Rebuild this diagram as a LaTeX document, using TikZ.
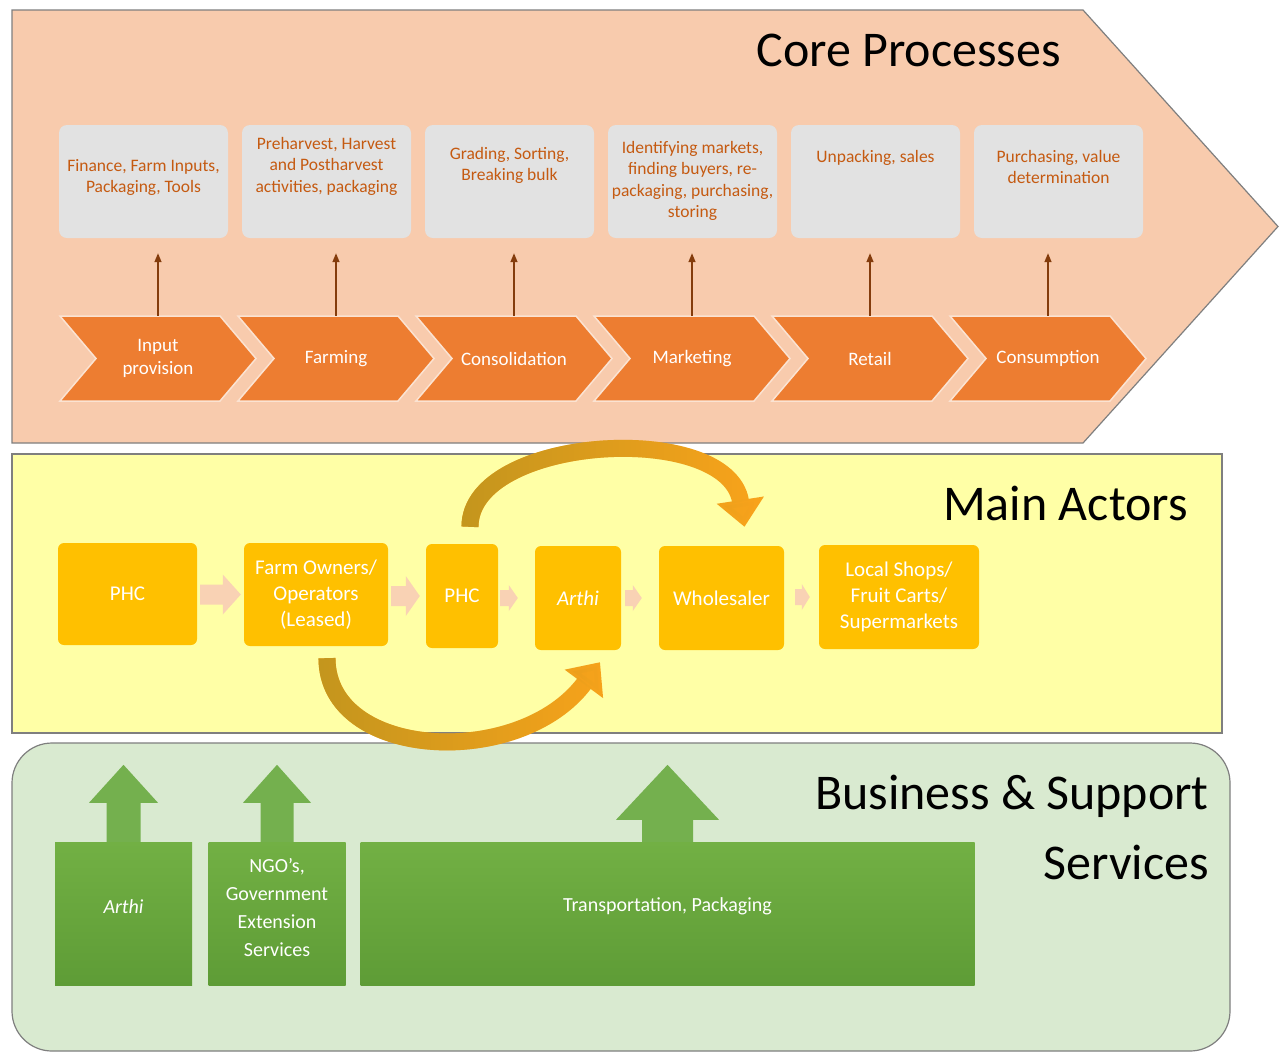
\documentclass[tikz,border=0pt]{standalone}
\usepackage{fontspec}
\setmainfont{Carlito}
\usetikzlibrary{arrows.meta,calc,fadings}

\definecolor{corefill}{HTML}{F8CBAD}
\definecolor{framec}{HTML}{7F7F7F}
\definecolor{taskgray}{HTML}{E2E2E2}
\definecolor{tasktxt}{HTML}{C55A11}
\definecolor{chevc}{HTML}{ED7D31}
\definecolor{chevedge}{HTML}{FBE3D2}
\definecolor{stemc}{HTML}{843C0C}
\definecolor{actfill}{HTML}{FFFFA6}
\definecolor{gold}{HTML}{FFC000}
\definecolor{peach}{HTML}{F9D2B4}
\definecolor{arcdark}{HTML}{C4961E}
\definecolor{arclight}{HTML}{F8A31B}
\definecolor{suppfill}{HTML}{D9EAD0}
\definecolor{grntop}{HTML}{72B044}
\definecolor{grnbot}{HTML}{5E9C36}
\definecolor{grnarrow}{HTML}{74B04E}

% chevron of the value chain: name, left x, label
\newcommand\stagechev[3]{%
  \filldraw[fill=chevc, draw=chevedge, line width=1.5pt]
    (#2,316) -- ++(160,0) -- ++(36,42.5) -- ++(-36,42.5) -- ++(-160,0) -- ++(36,-42.5) -- cycle;
  \node[stage] (#1) at (#2+98,358.5) {#3};}

% flat block arrow between two actor boxes
% #1 from, #2 to, #3 tail gap, #4 tip gap, #5 shaft half height, #6 head half height, #7 head length
\newcommand\flowarrow[7]{%
  \fill[peach] let \p1=(#1.east), \p2=(#2.west) in
    (\x1+#3,\y2+#5) -- (\x2-#4-#7,\y2+#5) -- (\x2-#4-#7,\y2+#6) -- (\x2-#4,\y2)
    -- (\x2-#4-#7,\y2-#6) -- (\x2-#4-#7,\y2-#5) -- (\x1+#3,\y2-#5) -- cycle;}

% upward block arrow standing on a support box
% #1 box, #2 shaft half width, #3 head half width, #4 head base height, #5 tip height
\newcommand\supportarrow[5]{%
  \fill[grnarrow] let \p1=(#1.north) in
    (\x1-#2,\y1) -- (\x1-#2,\y1+#4) -- (\x1-#3,\y1+#4) -- (\x1,\y1+#5)
    -- (\x1+#3,\y1+#4) -- (\x1+#2,\y1+#4) -- (\x1+#2,\y1) -- cycle;}

\begin{document}
\begin{tikzpicture}[x=1pt,y=-1pt,
  taskbox/.style={fill=taskgray, rounded corners=8pt, minimum width=169pt, minimum height=113pt, inner sep=0pt},
  tasktext/.style={text=tasktxt, font=\fontsize{17.5}{21.5}\selectfont, align=center, anchor=north, inner sep=0pt},
  stage/.style={text=white, font=\fontsize{19}{23}\selectfont, align=center, minimum width=150pt, minimum height=85pt, inner sep=0pt},
  stemarrow/.style={draw=stemc, line width=1.4pt, -{Triangle[length=9pt,width=7pt]}, shorten >=15pt},
  actor/.style={fill=gold, rounded corners=6pt, text=white, font=\fontsize{21}{26}\selectfont, align=center, inner sep=0pt},
  swoop/.style={line width=17pt, -{Triangle[length=27pt,width=46pt]}},
  suppbox/.style={top color=grntop, bottom color=grnbot, inner sep=0pt, minimum height=143pt},
  supptext/.style={text=white, font=\fontsize{20}{28}\selectfont, align=center, inner sep=0pt},
  title/.style={font=\fontsize{50}{70}\selectfont, text=black, inner sep=0pt}
]
\useasboundingbox (0,0) rectangle (1280,1053);
\fill[white] (0,0) rectangle (1280,1053);

% ---------- core processes band ----------
\filldraw[fill=corefill, draw=framec, line width=1.2pt]
  (12,10) -- (1083,10) -- (1278,226.5) -- (1083,443) -- (12,443) -- cycle;
\node[title, anchor=east] (coretitle) at (1061,50) {Core Processes};

\node[taskbox] (b1) at (143.5,181.5) {};
\node[taskbox] (b2) at (326.5,181.5) {};
\node[taskbox] (b3) at (509.5,181.5) {};
\node[taskbox] (b4) at (692.5,181.5) {};
\node[taskbox] (b5) at (875.5,181.5) {};
\node[taskbox] (b6) at (1058.5,181.5) {};

\node[tasktext] (t1) at ($(b1.north)+(0,34)$) {Finance, Farm Inputs,\\Packaging, Tools};
\node[tasktext] (t2) at ($(b2.north)+(0,12)$) {Preharvest, Harvest\\and Postharvest\\activities, packaging};
\node[tasktext] (t3) at ($(b3.north)+(0,22)$) {Grading, Sorting,\\Breaking bulk};
\node[tasktext] (t4) at ($(b4.north)+(0,16)$) {Identifying markets,\\finding buyers, re-\\packaging, purchasing,\\storing};
\node[tasktext] (t5) at ($(b5.north)+(0,25)$) {Unpacking, sales};
\node[tasktext] (t6) at ($(b6.north)+(0,25)$) {Purchasing, value\\determination};

\stagechev{c1}{60}{Input\\provision}
\stagechev{c2}{238}{Farming}
\stagechev{c3}{416}{Consolidation}
\stagechev{c4}{594}{Marketing}
\stagechev{c5}{772}{Retail}
\stagechev{c6}{950}{Consumption}

\foreach \i in {1,...,6}
  \draw[stemarrow] (c\i.north) -- (c\i.north |- b\i.south);

% ---------- main actors band ----------
\filldraw[fill=actfill, draw=framec, line width=1.2pt] (12,454) rectangle (1222,733);
\node[title, anchor=east] (acttitle) at (1188,503) {Main Actors};

\node[actor, minimum width=139pt, minimum height=102pt] (a1) at (127.5,594) {PHC};
\node[actor, minimum width=144pt, minimum height=103pt] (a2) at (316,594.5) {Farm Owners/\\Operators\\(Leased)};
\node[actor, minimum width=72pt, minimum height=104pt] (a3) at (462,596) {PHC};
\node[actor, minimum width=86pt, minimum height=104pt] (a4) at (578,598) {\itshape Arthi};
\node[actor, minimum width=125pt, minimum height=104pt] (a5) at (721.5,598) {Wholesaler};
\node[actor, minimum width=160pt, minimum height=104pt] (a6) at (899,597) {Local Shops/\\Fruit Carts/\\Supermarkets};

\flowarrow{a1}{a2}{3pt}{3pt}{10pt}{20pt}{18pt}
\flowarrow{a2}{a3}{3pt}{6pt}{10pt}{20pt}{14pt}
\flowarrow{a3}{a4}{2pt}{17pt}{8pt}{13pt}{9pt}
\flowarrow{a4}{a5}{4pt}{17pt}{8pt}{13pt}{9pt}
\flowarrow{a5}{a6}{11pt}{9pt}{8pt}{13pt}{8pt}

% ---------- business and support band ----------
\filldraw[fill=suppfill, draw=framec, line width=1.2pt, rounded corners=40pt]
  (12,743) rectangle (1230,1051);
\node[title, anchor=east, align=right] (supptitle) at (1209,827) {Business \& Support\\Services};

\node[suppbox, minimum width=137pt] (s1) at (123.5,913.5) {};
\node[suppbox, minimum width=137pt] (s2) at (277,913.5) {};
\node[suppbox, minimum width=614pt] (s3) at (667.5,913.5) {};
\node[supptext] (s1t) at ($(s1.center)+(0,-7)$) {\itshape Arthi};
\node[supptext] (s2t) at ($(s2.center)+(0,-6)$) {NGO’s,\\Government\\Extension\\Services};
\node[supptext] (s3t) at ($(s3.center)+(0,-7)$) {Transportation, Packaging};

\supportarrow{s1}{17pt}{34.5pt}{39pt}{77pt}
\supportarrow{s2}{16.5pt}{34pt}{39pt}{77pt}
\supportarrow{s3}{25.5pt}{51.5pt}{22pt}{77pt}

% ---------- swooping arrows that skip an actor ----------
\draw[swoop, draw=arclight]
  ([shift={(8,-17)}]a3.north) .. controls (470,435) and (728,420) .. ([shift={(23,-19)}]a5.north);
\draw[swoop, draw=arcdark, path fading=east]
  ([shift={(8,-17)}]a3.north) .. controls (470,435) and (728,420) .. ([shift={(23,-19)}]a5.north);
\draw[swoop, draw=arclight]
  ([shift={(11,12)}]a2.south) .. controls (327,760) and (520,770) .. ([shift={(22,12)}]a4.south);
\draw[swoop, draw=arcdark, path fading=east]
  ([shift={(11,12)}]a2.south) .. controls (327,760) and (520,770) .. ([shift={(22,12)}]a4.south);
\end{tikzpicture}
\end{document}
